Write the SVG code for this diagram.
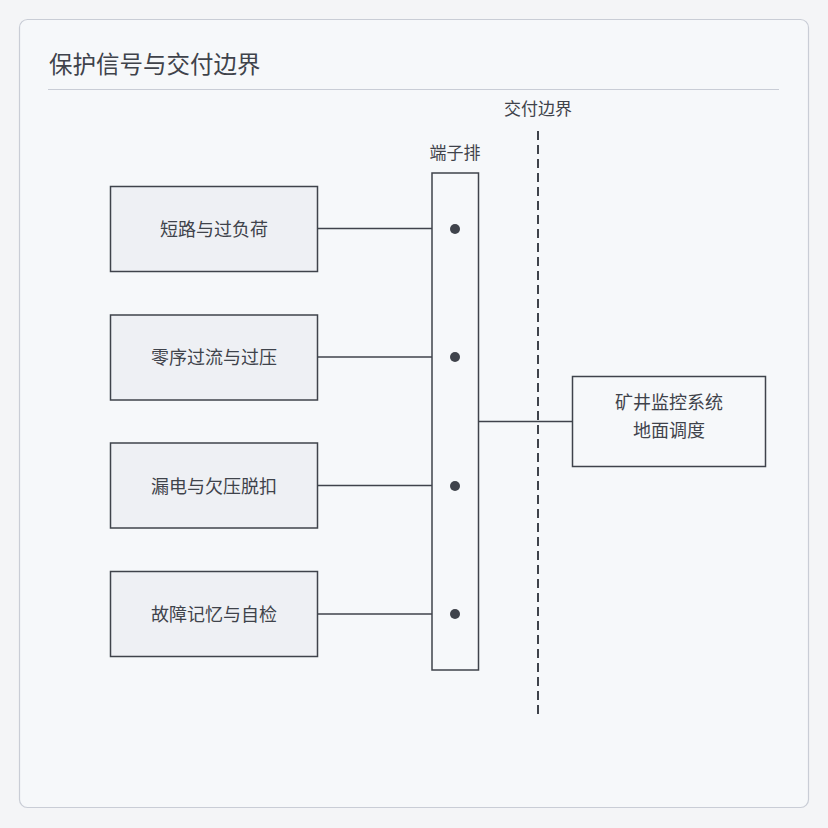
<svg xmlns="http://www.w3.org/2000/svg" width="828" height="828" viewBox="0 0 828 828">
<style>
.node rect{fill:#eef0f4;stroke:#3f434b;stroke-width:1.5}
.lbl{font-family:"Noto Sans CJK SC","Noto Sans",sans-serif;fill:#3f434b;text-anchor:middle}
.conn line{stroke:#3f434b;stroke-width:1.5}
</style>
<rect x="0" y="0" width="828" height="828" fill="#f4f5f7"/>
<rect x="19.5" y="19.5" width="789" height="788" rx="8" fill="#f6f8fa" stroke="#c9cdd6" stroke-width="1.2"/>
<text x="49" y="73" font-family="Noto Sans CJK SC,sans-serif" font-size="23.5" fill="#3f434b">保护信号与交付边界</text>
<line x1="48" y1="89.5" x2="779" y2="89.5" stroke="#c9cdd6" stroke-width="1.2"/>

<g class="conn">
<line x1="317" y1="228.5" x2="432" y2="228.5"/>
<line x1="317" y1="357" x2="432" y2="357"/>
<line x1="317" y1="485.5" x2="432" y2="485.5"/>
<line x1="317" y1="614" x2="432" y2="614"/>
<line x1="478" y1="421.5" x2="572" y2="421.5"/>
</g>

<g id="boundary">
<line x1="538" y1="131" x2="538" y2="716" stroke="#3f434b" stroke-width="2" stroke-dasharray="9 5"/>
<text class="lbl" x="538" y="114.5" font-size="17">交付边界</text>
</g>

<g id="n1" class="node"><rect x="110.5" y="186.5" width="207" height="85"/><text class="lbl" x="214" y="235.5" font-size="18">短路与过负荷</text></g>
<g id="n2" class="node"><rect x="110.5" y="315" width="207" height="85"/><text class="lbl" x="214" y="364" font-size="18">零序过流与过压</text></g>
<g id="n3" class="node"><rect x="110.5" y="443" width="207" height="85"/><text class="lbl" x="214" y="492.5" font-size="18">漏电与欠压脱扣</text></g>
<g id="n4" class="node"><rect x="110.5" y="571.5" width="207" height="85"/><text class="lbl" x="214" y="620.5" font-size="18">故障记忆与自检</text></g>

<g id="terminal">
<rect x="432" y="173" width="46.5" height="497" fill="#f6f8fa" stroke="#3f434b" stroke-width="1.5"/>
<text class="lbl" x="455" y="158.5" font-size="17">端子排</text>
<circle cx="455" cy="229" r="5" fill="#3f434b"/>
<circle cx="455" cy="357" r="5" fill="#3f434b"/>
<circle cx="455" cy="486" r="5" fill="#3f434b"/>
<circle cx="455" cy="614" r="5" fill="#3f434b"/>
</g>

<g id="remote" class="node"><rect x="572.5" y="376.5" width="193" height="90" style="fill:#f6f8fa"/>
<text class="lbl" x="669" y="408.5" font-size="18">矿井监控系统</text>
<text class="lbl" x="669" y="436.5" font-size="18">地面调度</text></g>
</svg>
